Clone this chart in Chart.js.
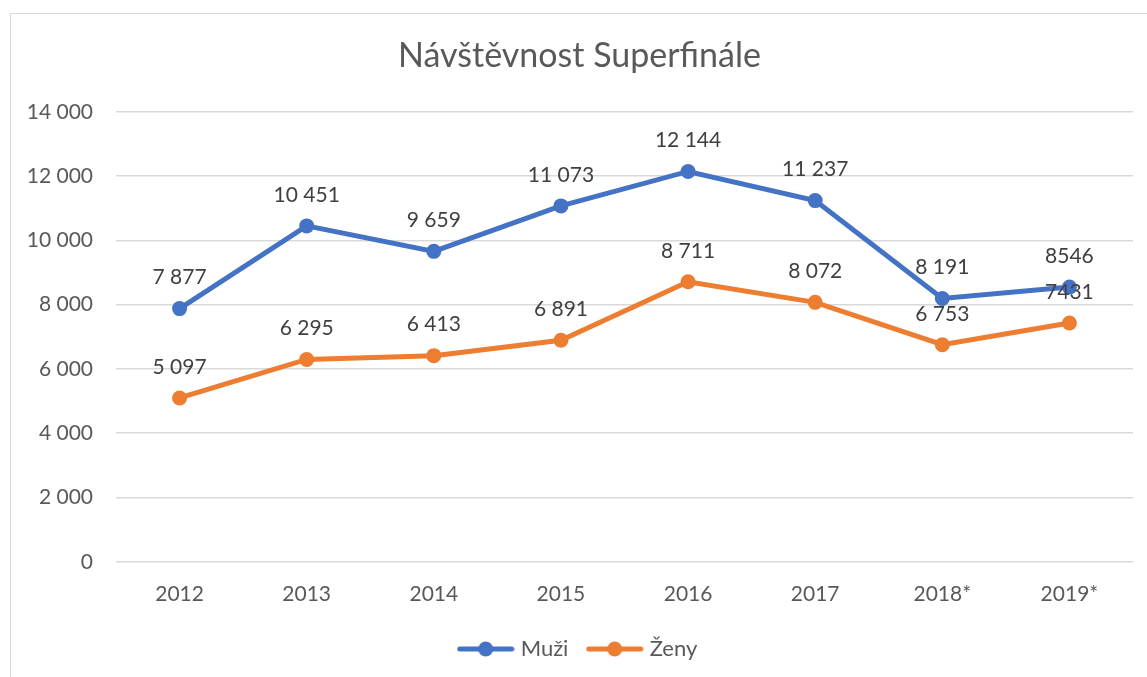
<!DOCTYPE html>
<html>
<head>
<meta charset="utf-8">
<script src="https://cdn.jsdelivr.net/npm/chart.js@4"></script>
<style>
  html, body { margin: 0; padding: 0; background: #fff; overflow: hidden; }
  #frame { position: absolute; left: 10px; top: 13px; width: 1200px; height: 700px; border: 1px solid #d9d9d9; }
  #wrap { position: absolute; left: 0; top: 0; width: 1147px; height: 677px; }
</style>
</head>
<body>
<div id="frame"></div>
<div id="wrap"><canvas id="chart"></canvas></div>
<script>
const years = ['2012', '2013', '2014', '2015', '2016', '2017', '2018*', '2019*'];
const muzi = [7877, 10451, 9659, 11073, 12144, 11237, 8191, 8546];
const zeny = [5097, 6295, 6413, 6891, 8711, 8072, 6753, 7431];
// popisky tak, jak jsou v originale (posledni bez mezery)
const muziLabels = ['7 877', '10 451', '9 659', '11 073', '12 144', '11 237', '8 191', '8546'];
const zenyLabels = ['5 097', '6 295', '6 413', '6 891', '8 711', '8 072', '6 753', '7431'];

const BLUE = '#4472C4';
const ORANGE = '#ED7D31';
const FONT = 'Lato, "Open Sans", sans-serif';

// znacka do legendy: cara s koleckem
function legendMarker(color) {
  const c = document.createElement('canvas');
  c.width = 58; c.height = 16;
  const g = c.getContext('2d');
  g.strokeStyle = color;
  g.lineWidth = 5;
  g.lineCap = 'round';
  g.beginPath(); g.moveTo(3, 8); g.lineTo(55, 8); g.stroke();
  g.fillStyle = color;
  g.beginPath(); g.arc(29, 8, 7.5, 0, Math.PI * 2); g.fill();
  return c;
}
const markers = [legendMarker(BLUE), legendMarker(ORANGE)];

const pointLabels = {
  id: 'pointLabels',
  afterDatasetsDraw(chart) {
    const ctx = chart.ctx;
    const sets = [muziLabels, zenyLabels];
    ctx.save();
    ctx.font = '21px ' + FONT;
    ctx.fillStyle = '#404040';
    ctx.textAlign = 'center';
    ctx.textBaseline = 'middle';
    chart.data.datasets.forEach(function (ds, di) {
      const meta = chart.getDatasetMeta(di);
      meta.data.forEach(function (pt, i) {
        ctx.fillText(sets[di][i], pt.x, pt.y - 31);
      });
    });
    ctx.restore();
  }
};

const ctx = document.getElementById('chart').getContext('2d');
new Chart(ctx, {
  type: 'line',
  data: {
    labels: years,
    datasets: [{
      label: 'Muži',
      data: muzi,
      borderColor: BLUE,
      backgroundColor: BLUE,
      borderWidth: 5,
      pointRadius: 7.5,
      pointBorderWidth: 0,
      tension: 0
    }, {
      label: 'Ženy',
      data: zeny,
      borderColor: ORANGE,
      backgroundColor: ORANGE,
      borderWidth: 5,
      pointRadius: 7.5,
      pointBorderWidth: 0,
      tension: 0
    }]
  },
  options: {
    responsive: true,
    maintainAspectRatio: false,
    animation: false,
    layout: { padding: { left: 26, right: 14, top: 0, bottom: 7 } },
    plugins: {
      title: {
        display: true,
        text: 'Návštěvnost Superfinále',
        color: '#595959',
        font: { family: FONT, size: 34, weight: 'normal' },
        padding: { top: 36, bottom: 35 }
      },
      legend: {
        position: 'bottom',
        labels: {
          color: '#595959',
          font: { family: FONT, size: 22 },
          usePointStyle: true,
          pointStyleWidth: 48,
          boxHeight: 16,
          padding: 11,
          generateLabels(chart) {
            const items = Chart.defaults.plugins.legend.labels.generateLabels(chart);
            items.forEach(function (it, i) {
              it.pointStyle = markers[i];
              if (i === 0) it.text = it.text + '  ';
            });
            return items;
          }
        }
      },
      tooltip: { enabled: false }
    },
    scales: {
      x: {
        offset: true,
        grid: { display: false, drawTicks: false },
        border: { display: false },
        ticks: { color: '#595959', font: { family: FONT, size: 21 }, padding: 20 }
      },
      y: {
        min: 0,
        max: 14000,
        afterFit(scale) { scale.width = 90; },
        grid: { color: '#d9d9d9', lineWidth: 1.5, drawTicks: false },
        border: { display: false },
        ticks: {
          stepSize: 2000,
          color: '#595959',
          font: { family: FONT, size: 21 },
          padding: 23,
          callback: function (v) {
            return String(v).replace(/\B(?=(\d{3})+(?!\d))/g, ' ');
          }
        }
      }
    }
  },
  plugins: [pointLabels]
});
</script>
</body>
</html>
